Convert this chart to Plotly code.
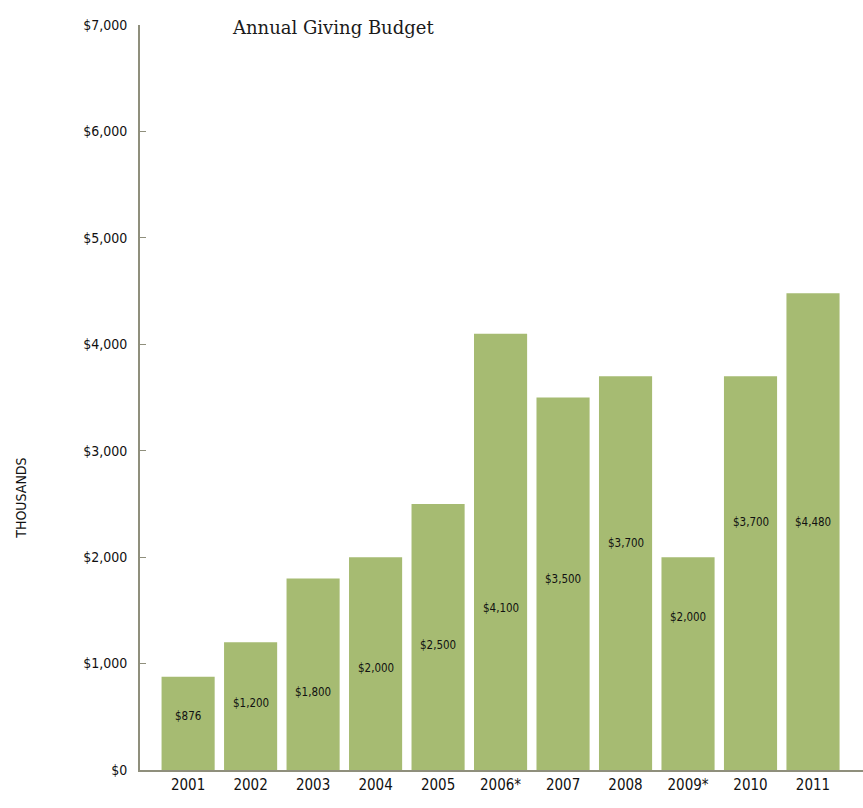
import plotly.graph_objects as go

# Annual giving budget, in thousands of dollars
years = ["2001", "2002", "2003", "2004", "2005", "2006*", "2007", "2008", "2009*", "2010", "2011"]
budget = [876, 1200, 1800, 2000, 2500, 4100, 3500, 3700, 2000, 3700, 4480]
value_labels = ["$876", "$1,200", "$1,800", "$2,000", "$2,500", "$4,100",
                "$3,500", "$3,700", "$2,000", "$3,700", "$4,480"]
y_ticks = [0, 1000, 2000, 3000, 4000, 5000, 6000, 7000]
y_tick_text = ["$0", "$1,000", "$2,000", "$3,000", "$4,000", "$5,000", "$6,000", "$7,000"]

# vertical placement of the in-bar value labels (thousands)
label_height = [510, 630, 730, 960, 1170, 1520, 1790, 2130, 1440, 2330, 2330]

NARROW = "DejaVu Sans Condensed, Liberation Sans Narrow, Roboto Condensed, Arial Narrow, sans-serif"
AXIS_COLOR = "#8f8f7c"
BAR_COLOR = "#a6bb72"

fig = go.Figure()
fig.add_trace(go.Bar(
    x=list(range(len(years))), y=budget,
    marker=dict(color=BAR_COLOR, line=dict(width=0)),
    hovertext=years, hoverinfo="text+y",
))

for i, (h, txt) in enumerate(zip(label_height, value_labels)):
    fig.add_annotation(x=i, y=h, text=txt, showarrow=False,
                       font=dict(family=NARROW, size=11.5, color="#111"))

fig.add_annotation(xref="paper", yref="paper", x=0.125, y=0.996,
                   xanchor="left", yanchor="middle",
                   text="Annual Giving Budget", showarrow=False,
                   font=dict(family="DejaVu Serif, serif", size=18, color="#1a1a1a"))

fig.add_annotation(xref="paper", yref="paper", x=-0.165, y=0.365,
                   xanchor="center", yanchor="middle", textangle=-90,
                   text="THOUSANDS", showarrow=False,
                   font=dict(family=NARROW, size=14, color="#111"))

fig.update_layout(
    width=863, height=808,
    margin=dict(l=140, r=0, t=25, b=38),
    paper_bgcolor="white", plot_bgcolor="white",
    bargap=0.15,
    showlegend=False,
    xaxis=dict(
        range=[-0.77, 10.8],
        tickvals=list(range(len(years))), ticktext=years,
        showline=True, linecolor=AXIS_COLOR, linewidth=2,
        ticks="", showgrid=False, zeroline=False,
        tickfont=dict(family=NARROW, size=15, color="#111"),
    ),
    yaxis=dict(
        range=[0, 7000],
        tickvals=y_ticks, ticktext=y_tick_text,
        showline=True, linecolor=AXIS_COLOR, linewidth=2,
        ticks="inside", ticklen=6, tickcolor=AXIS_COLOR, tickwidth=1,
        showgrid=False, zeroline=False,
        ticklabelstandoff=8,
        tickfont=dict(family=NARROW, size=14, color="#111"),
    ),
)

fig.write_html("out.html")
